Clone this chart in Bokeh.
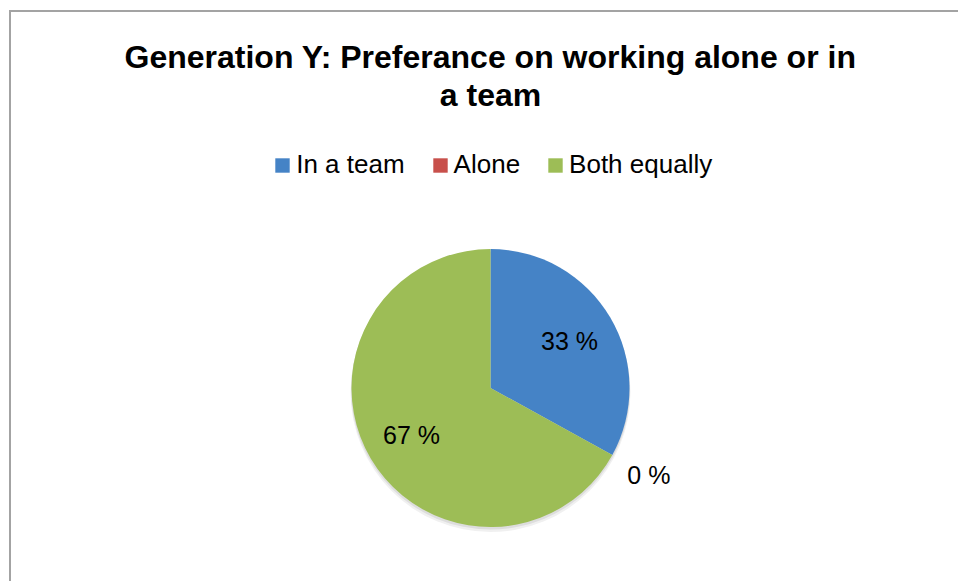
import numpy as np
from bokeh.plotting import figure
from bokeh.models import (ColumnDataSource, Range1d, Legend, LegendItem, Title,
                          CDSView, BooleanFilter, InlineStyleSheet)
from bokeh.core.properties import value
from bokeh.embed import file_html
from bokeh.resources import INLINE

# ---- data ----
categories = ["In a team", "Alone", "Both equally"]
percent = [33, 0, 67]
colors = ["#4583C6", "#C8504B", "#9DBD56"]
title_lines = ["Generation Y: Preferance on working alone or in", "a team"]

# ---- layout constants ----
W, H = 958, 581
TOP = 112
LEFT = 22
FONT = "Liberation Sans"

p = figure(width=W, height=H, output_backend="svg", toolbar_location=None,
           x_range=Range1d(LEFT, W), y_range=Range1d(0, H - TOP),
           min_border_top=TOP, min_border_left=LEFT, min_border_right=0, min_border_bottom=0,
           x_axis_location=None, y_axis_location=None, tools="", title=None)
p.grid.visible = False
p.outline_line_color = None
p.background_fill_color = "white"
p.border_fill_color = "white"

# two-line centred title (second line added first: it sits closer to the plot)
for line in reversed(title_lines):
    p.add_layout(Title(text=line, align="center", text_font=FONT, text_font_size="32px",
                       text_font_style="bold", text_color="black", standoff=0), "above")

# outer chart border (cropped at right/bottom in the original)
p.stylesheets = [InlineStyleSheet(css="""
:host { position: relative; }
:host::after { content: ""; position: absolute; left: 9px; top: 10px; right: 0; bottom: 0;
  border-left: 2px solid #A3A3A3; border-top: 2px solid #A3A3A3;
  pointer-events: none; z-index: 100; }
""")]

# ---- pie geometry ----
cx, cy, R = 490, 193.5, 139
vals = np.array(percent, dtype=float)
frac = vals / vals.sum()
cum = np.cumsum(frac)
start = np.pi / 2 - 2 * np.pi * np.concatenate([[0.0], cum[:-1]])
end = np.pi / 2 - 2 * np.pi * cum
mid = (start + end) / 2
rf = np.where(frac > 0, 0.66, 1.3)
lx = cx + rf * R * np.cos(mid)
ly = cy + rf * R * np.sin(mid)

src = ColumnDataSource(dict(cat=categories, start=start, end=end, color=colors,
                            lx=lx, ly=ly, label=[f"{v} %" for v in percent]))
nonzero = CDSView(filter=BooleanFilter(booleans=[bool(f > 0) for f in frac]))

# soft shadow
p.circle(x=[cx], y=[cy - 4], radius=R + 1, radius_units="screen",
         fill_color="black", fill_alpha=0.06, line_color=None)
p.circle(x=[cx], y=[cy - 2], radius=R + 0.5, radius_units="screen",
         fill_color="black", fill_alpha=0.08, line_color=None)

p.wedge(x=cx, y=cy, radius=R, radius_units="screen",
        start_angle="start", end_angle="end", direction="clock",
        fill_color="color", line_color=None, source=src, view=nonzero)

# legend proxy (same colours, zero size)
proxy_full = p.wedge(x=cx, y=cy, radius=0, radius_units="screen",
                     start_angle="start", end_angle="start",
                     fill_color="color", line_color=None, source=src)

p.text(x="lx", y="ly", text="label", source=src, text_font=value(FONT),
       text_font_size="25px", text_align="center", text_baseline="middle",
       text_color="black")

legend = Legend(items=[LegendItem(label=c, renderers=[proxy_full], index=i)
                       for i, c in enumerate(categories)],
                orientation="horizontal", location=(273.2 - LEFT, 401),
                glyph_width=18, glyph_height=18, label_height=30,
                label_standoff=5, spacing=26, padding=0, margin=0,
                label_text_font=FONT, label_text_font_size="26px",
                label_text_color="black",
                background_fill_alpha=0, border_line_color=None)
p.add_layout(legend)

open("out.html", "w").write(file_html(p, INLINE))
